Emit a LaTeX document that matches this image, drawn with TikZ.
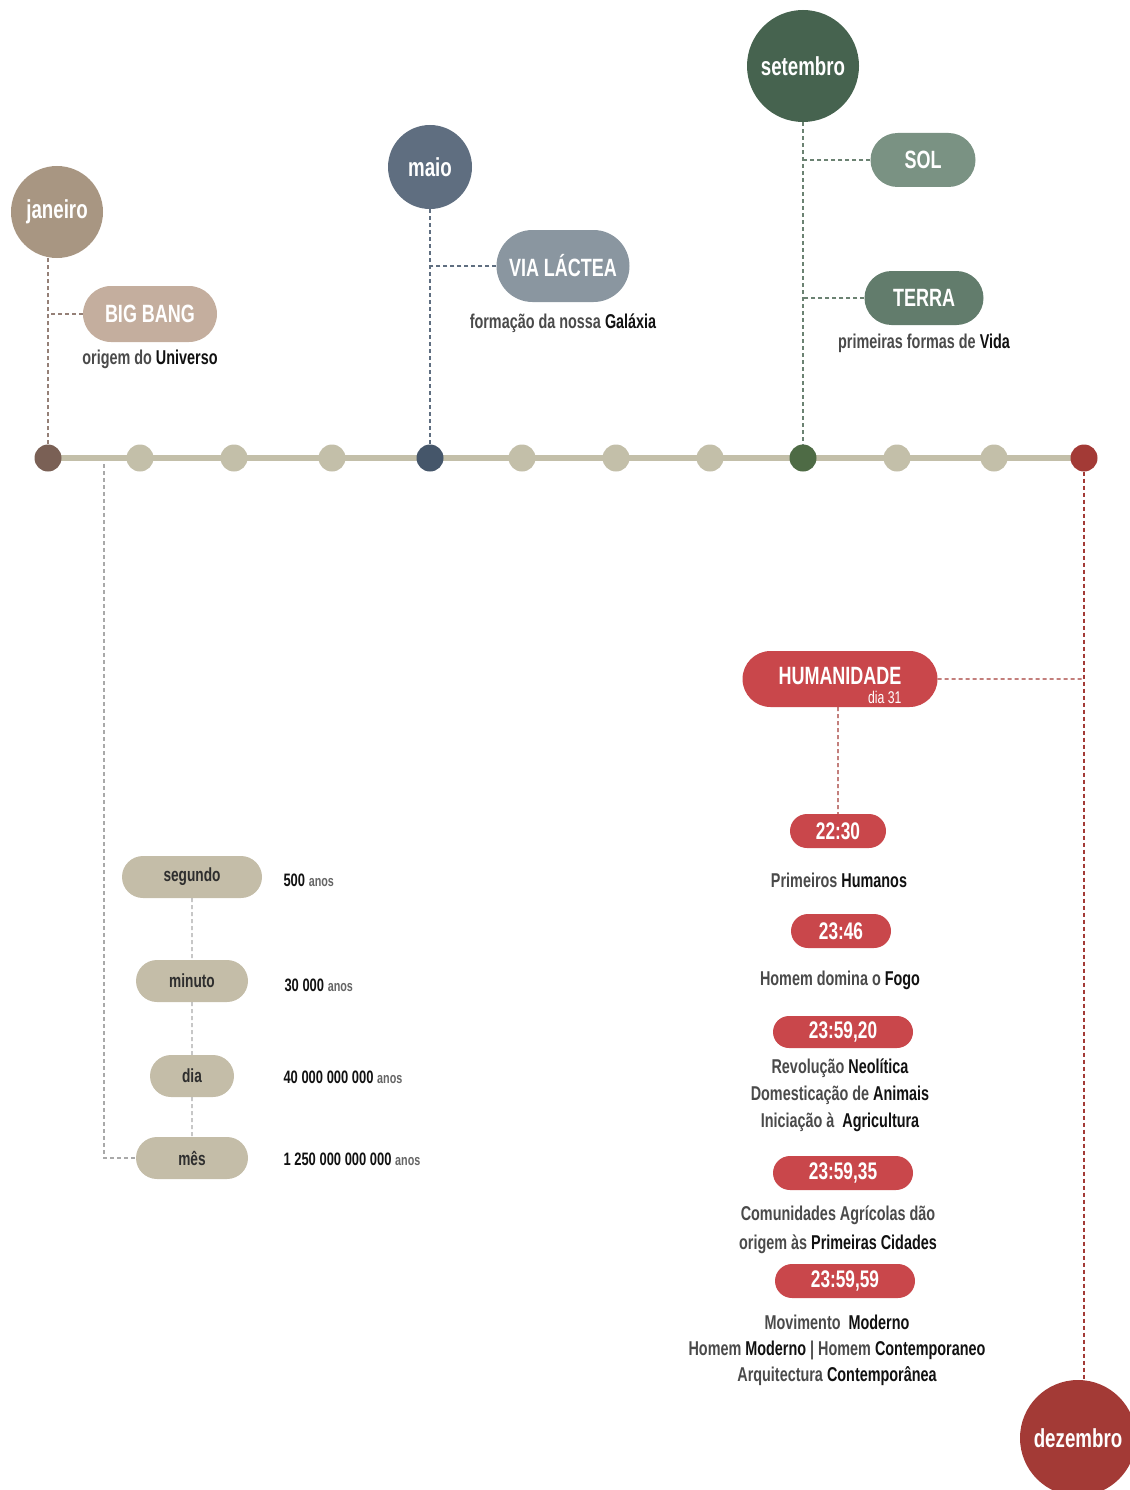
\documentclass[tikz,border=0pt]{standalone}
\usepackage{fontspec}
\setmainfont{Liberation Sans}[FakeStretch=0.72]
\usetikzlibrary{positioning,shapes.misc,backgrounds}
\definecolor{janbrown}{HTML}{A89682}
\definecolor{jandot}{HTML}{7A6055}
\definecolor{bigbang}{HTML}{C4AE9E}
\definecolor{maioblue}{HTML}{5F6E80}
\definecolor{maiodot}{HTML}{45566A}
\definecolor{vialactea}{HTML}{8A96A0}
\definecolor{setgreen}{HTML}{46634F}
\definecolor{setdot}{HTML}{4E6B45}
\definecolor{solgreen}{HTML}{7A9283}
\definecolor{terragreen}{HTML}{627C6C}
\definecolor{dezred}{HTML}{A33A36}
\definecolor{humred}{HTML}{C9474B}
\definecolor{beige}{HTML}{C3BFA9}
\definecolor{unitbeige}{HTML}{C4BDA8}
\definecolor{unittext}{HTML}{2E2E2E}
\definecolor{txtgray}{HTML}{4A4A4A}
\definecolor{txtdark}{HTML}{111111}
\definecolor{linkgray}{HTML}{A9A9A9}
\newcommand{\hiword}[1]{{\color{txtdark}#1}}
\newcommand{\anos}{{\fontsize{15}{17}\selectfont\color{txtgray!85} anos}}
\tikzset{%
  month/.style={circle,fill=#1,text=white,font=\bfseries\fontsize{26}{28}\selectfont,inner sep=0pt},
  event/.style={rounded rectangle,fill=#1,text=white,font=\bfseries\fontsize{25}{27}\selectfont,minimum height=56pt,inner sep=0pt},
  hour/.style={rounded rectangle,fill=humred,text=white,font=\bfseries\fontsize{24}{26}\selectfont,minimum height=34pt,inner sep=0pt},
  unit/.style={rounded rectangle,fill=unitbeige,text=unittext,font=\bfseries\fontsize{19}{21}\selectfont,minimum height=42pt,inner sep=0pt},
  tick/.style={circle,fill=#1,minimum size=27pt,inner sep=0pt},
  tick/.default=beige,
  note/.style={align=center,text=txtgray,font=\bfseries\fontsize{20}{27}\selectfont},
  amount/.style={anchor=west,text=txtdark,font=\bfseries\fontsize{18}{20}\selectfont},
  link/.style={draw=#1,line width=1.2pt,dash pattern=on 4pt off 3pt}%
}

\begin{document}
\begin{tikzpicture}[x=1pt,y=-1pt,node distance=6pt]
  \useasboundingbox (0,0) rectangle (1129,1490);

  % timeline
  \node (dot_jan) [tick=jandot] at (48,458) {};
  \node (dot_maio) [tick=maiodot] at (430,458) {};
  \node (dot_set) [tick=setdot] at (803,458) {};
  \node (dot_dez) [tick=dezred] at (1084,458) {};
  \foreach \name/\x in {fev/140,mar/234,abr/332,jun/522,jul/616,ago/710,out/897,nov/994}
    \node (dot_\name) [tick] at (\x,458) {};
  \begin{scope}[on background layer]
    \draw[beige,line width=6pt] (dot_jan.center) -- (dot_dez.center);
  \end{scope}

  % janeiro
  \node (janeiro) [month=janbrown,minimum size=92pt] at (57,212) {janeiro};
  \node (big_bang) [event=bigbang,minimum width=134pt] at (150,314) {BIG BANG};
  \node (big_bang_txt) [note,below=4pt of big_bang] {origem do \hiword{Universo}};
  \draw[link=jandot!80] (dot_jan) -- (dot_jan |- janeiro.south);
  \draw[link=jandot!80] (big_bang) -- (big_bang -| dot_jan);

  % maio
  \node (maio) [month=maioblue,minimum size=84pt] at (430,167) {maio};
  \node (via_lactea) [event=vialactea,minimum width=133pt,minimum height=72pt] at (563,266) {VIA LÁCTEA};
  \node (via_lactea_txt) [note,below=8pt of via_lactea] {formação da nossa \hiword{Galáxia}};
  \draw[link=maioblue] (maio) -- (dot_maio);
  \draw[link=maioblue] (via_lactea) -- (via_lactea -| maio);

  % setembro
  \node (setembro) [month=setgreen,minimum size=112pt] at (803,66) {setembro};
  \node (sol) [event=solgreen,minimum width=105pt,minimum height=54pt] at (923,160) {SOL};
  \node (terra) [event=terragreen,minimum width=119pt,minimum height=54pt] at (924,298) {TERRA};
  \node (terra_txt) [note,below=5pt of terra] {primeiras formas de \hiword{Vida}};
  \draw[link=setgreen!80] (setembro) -- (dot_set);
  \draw[link=setgreen!80] (sol) -- (sol -| setembro);
  \draw[link=setgreen!80] (terra) -- (terra -| setembro);

  % dezembro
  \node (dezembro) [month=dezred,minimum size=116pt] at (1078,1438) {dezembro};
  \draw[link=dezred] (dot_dez) -- (dot_dez |- dezembro.north);
  \node (humanidade) [event=humred,minimum width=195pt,align=right] at (840,679)
    {\rule{0pt}{31pt}HUMANIDADE\\[-8pt]{\fontsize{17}{17}\selectfont\mdseries dia 31}};
  \draw[link=dezred] (humanidade) -- (humanidade -| dot_dez);

  \node (t_2230) [hour,minimum width=96pt] at (838,831) {22:30};
  \node (t_2230_txt) [note] at (839,880) {Primeiros \hiword{Humanos}};
  \node (t_2346) [hour,minimum width=100pt] at (841,931) {23:46};
  \node (t_2346_txt) [note] at (840,980) {Homem domina o \hiword{Fogo}};
  \node (t_235920) [hour,minimum width=140pt,minimum height=32pt] at (843,1032) {23:59,20};
  \node (t_235920_txt) [note] at (840,1095) {Revolução \hiword{Neolítica}\\Domesticação de \hiword{Animais}\\Iniciação à \ \hiword{Agricultura}};
  \node (t_235935) [hour,minimum width=140pt] at (843,1173) {23:59,35};
  \node (t_235935_txt) [note,font=\bfseries\fontsize{20}{29}\selectfont] at (838,1230) {Comunidades Agrícolas dão\\origem às \hiword{Primeiras Cidades}};
  \node (t_235959) [hour,minimum width=140pt] at (845,1281) {23:59,59};
  \node (t_235959_txt) [note,font=\bfseries\fontsize{20}{26}\selectfont] at (837,1350) {Movimento \ \hiword{Moderno}\\Homem \hiword{Moderno} | Homem \hiword{Contemporaneo}\\Arquitectura \hiword{Contemporânea}};
  \draw[link=dezred] (humanidade.south -| t_2230) -- (t_2230);

  % unidades
  \node (segundo) [unit,minimum width=140pt] at (192,877) {segundo};
  \node (minuto) [unit,minimum width=112pt] at (192,981) {minuto};
  \node (dia) [unit,minimum width=84pt] at (192,1076) {dia};
  \node (mes) [unit,minimum width=112pt] at (192,1158) {mês};
  \node (segundo_val) [amount] at (280,880) {500 \anos};
  \node (minuto_val) [amount] at (281,985) {30 000 \anos};
  \node (dia_val) [amount] at (280,1077) {40 000 000 000 \anos};
  \node (mes_val) [amount] at (280,1159) {1 250 000 000 000 \anos};
  \path[link=linkgray] (segundo) edge (minuto) (minuto) edge (dia) (dia) edge (mes);
  \coordinate (unit_start) at (104,464);
  \draw[link=linkgray] (unit_start) |- (mes);
\end{tikzpicture}
\end{document}
